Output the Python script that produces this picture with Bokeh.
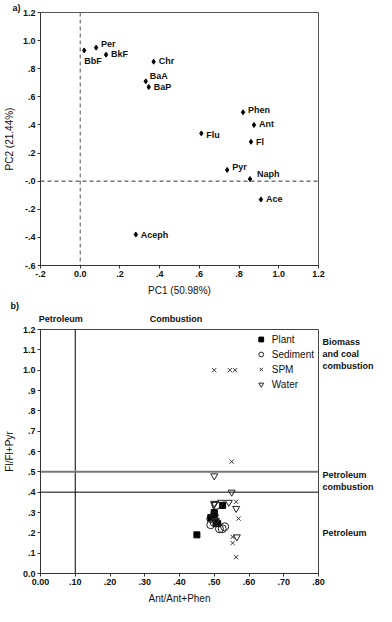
from bokeh.plotting import figure
from bokeh.layouts import column
from bokeh.models import (ColumnDataSource, Span, LabelSet, Range1d, FixedTicker,
                          Legend, LegendItem, LinearAxis, Title)
from bokeh.core.properties import value
from bokeh.embed import file_html
from bokeh.resources import INLINE

# ---------------- data: panel a (PCA loadings) ----------------
pah_names = ["BbF", "Per", "BkF", "Chr", "BaA", "BaP", "Phen", "Ant", "Flu", "Fl", "Pyr", "Naph", "Ace", "Aceph"]
pc1 = [0.02, 0.08, 0.13, 0.37, 0.33, 0.345, 0.82, 0.875, 0.61, 0.86, 0.74, 0.855, 0.91, 0.28]
pc2 = [0.93, 0.95, 0.90, 0.85, 0.71, 0.67, 0.49, 0.40, 0.34, 0.28, 0.08, 0.015, -0.13, -0.38]
a_xticks = [-0.2, 0.0, 0.2, 0.4, 0.6, 0.8, 1.0, 1.2]
a_xlabels = ["-.2", "0.0", ".2", ".4", ".6", ".8", "1.0", "1.2"]
a_yticks = [-0.6, -0.4, -0.2, 0.0, 0.2, 0.4, 0.6, 0.8, 1.0, 1.2]
a_ylabels = ["-.6", "-.4", "-.2", "-.0", ".2", ".4", ".6", ".8", "1.0", "1.2"]

# ---------------- data: panel b (diagnostic ratios) ----------------
plant_x = [0.45, 0.524, 0.50, 0.50, 0.49, 0.51, 0.505]
plant_y = [0.19, 0.335, 0.30, 0.29, 0.275, 0.245, 0.25]
sed_x = [0.49, 0.50, 0.50, 0.505, 0.515, 0.523, 0.53, 0.49]
sed_y = [0.24, 0.25, 0.285, 0.335, 0.22, 0.22, 0.23, 0.27]
spm_x = [0.50, 0.545, 0.56, 0.55, 0.563, 0.57, 0.553, 0.553, 0.563]
spm_y = [1.00, 1.00, 1.00, 0.55, 0.353, 0.27, 0.18, 0.15, 0.08]
water_x = [0.50, 0.55, 0.50, 0.52, 0.542, 0.563, 0.565, 0.505, 0.50]
water_y = [0.48, 0.40, 0.345, 0.35, 0.35, 0.32, 0.18, 0.26, 0.34]
b_xticks = [0.0, 0.1, 0.2, 0.3, 0.4, 0.5, 0.6, 0.7, 0.8]
b_xlabels = ["0.00", ".10", ".20", ".30", ".40", ".50", ".60", ".70", ".80"]
b_yticks = [0.0, 0.1, 0.2, 0.3, 0.4, 0.5, 0.6, 0.7, 0.8, 0.9, 1.0, 1.1, 1.2]
b_ylabels = ["0.0", ".1", ".2", ".3", ".4", ".5", ".6", ".7", ".8", ".9", "1.0", "1.1", "1.2"]
# source zones named along the top and the right edge of panel b
zone_top_x = [0.058, 0.39]
zone_top_labels = ["Petroleum", "Combustion"]
zone_right_y = [1.08, 0.455, 0.20]
zone_right_labels = ["Biomass\nand coal\ncombustion", "Petroleum\ncombustion", "Petroleum"]

FONT = "Liberation Sans"

def style_axis(ax, bold=True):
    ax.major_label_text_font = FONT
    ax.major_label_text_font_style = "bold" if bold else "normal"
    ax.major_label_text_font_size = "9px"
    ax.major_label_text_color = "#111111"
    ax.axis_label_text_font = FONT
    ax.axis_label_text_font_style = "normal"
    ax.axis_label_text_font_size = "10px"
    ax.axis_label_text_color = "#111111"
    ax.minor_tick_line_color = None
    ax.major_tick_out = 3
    ax.major_tick_in = 0
    ax.major_label_standoff = 2
    ax.axis_label_standoff = 5
    ax.axis_line_color = "#333333"
    ax.major_tick_line_color = "#333333"

def bare_axis(ax):
    style_axis(ax)
    ax.axis_line_color = None
    ax.major_tick_line_color = None
    ax.major_tick_out = 0

def style_fig(p):
    style_axis(p.xaxis[0])
    style_axis(p.yaxis[0])
    p.xgrid.grid_line_color = None
    p.ygrid.grid_line_color = None
    p.outline_line_color = "#555555"
    p.outline_line_width = 1

def panel_tag(p, text, offset):
    p.add_layout(Title(text=text, align="left", offset=offset, text_font=FONT, text_font_size="9px",
                       text_font_style="bold", text_color="#111111", standoff=0), "above")

# ---------------- panel a ----------------
pa = figure(width=376, height=298, output_backend="svg", toolbar_location=None, title_location=None,
            x_range=Range1d(-0.2, 1.2), y_range=Range1d(-0.6, 1.2),
            min_border_left=30, min_border_right=44, min_border_top=0, min_border_bottom=30)
style_fig(pa)
pa.xaxis.ticker = FixedTicker(ticks=a_xticks)
pa.xaxis.major_label_overrides = dict(zip(a_xticks, a_xlabels))
pa.yaxis.ticker = FixedTicker(ticks=a_yticks)
pa.yaxis.major_label_overrides = dict(zip(a_yticks, a_ylabels))
pa.xaxis.axis_label = "PC1 (50.98%)"
pa.yaxis.axis_label = "PC2 (21.44%)"
panel_tag(pa, "a)", -28)

pa.add_layout(Span(location=0, dimension="height", line_color="#555555", line_dash="4 3", line_width=1))
pa.add_layout(Span(location=0, dimension="width", line_color="#333333", line_dash="4 3", line_width=1))

# label offsets (screen px) for each point label
lab_dx = [0, 5, 5, 5, 4, 5, 5, 5, 5, 5, 5, 7, 5, 5]
lab_dy = [-11, 4, 1, 1, 5, 0, 2, 1, -2, 0, 3, 5, 0, 0]
src_a = ColumnDataSource(dict(x=pc1, y=pc2, name=pah_names, dx=lab_dx, dy=lab_dy))
pa.scatter("x", "y", source=src_a, marker="diamond", size=5, fill_color="black", line_color="black")
pa.add_layout(LabelSet(x="x", y="y", text="name", source=src_a, x_offset="dx", y_offset="dy",
                       text_font=value(FONT), text_font_size=value("9px"), text_font_style=value("bold"),
                       text_baseline=value("middle"), text_color=value("#111111")))

# ---------------- panel b ----------------
pb = figure(width=376, height=308, output_backend="svg", toolbar_location=None, title_location=None,
            x_range=Range1d(0, 0.8), y_range=Range1d(0, 1.2),
            min_border_left=26, min_border_right=0, min_border_top=0, min_border_bottom=30)
style_fig(pb)
pb.outline_line_color = "#444444"
pb.xaxis.ticker = FixedTicker(ticks=b_xticks)
pb.xaxis.major_label_overrides = dict(zip(b_xticks, b_xlabels))
pb.yaxis.ticker = FixedTicker(ticks=b_yticks)
pb.yaxis.major_label_overrides = dict(zip(b_yticks, b_ylabels))
pb.xaxis.axis_label = "Ant/Ant+Phen"
pb.yaxis.axis_label = "Fl/Fl+Pyr"

top_axis = LinearAxis(ticker=FixedTicker(ticks=zone_top_x),
                      major_label_overrides=dict(zip(zone_top_x, zone_top_labels)))
bare_axis(top_axis)
top_axis.major_label_standoff = 6
pb.add_layout(top_axis, "above")

right_axis = LinearAxis(ticker=FixedTicker(ticks=zone_right_y),
                        major_label_overrides=dict(zip(zone_right_y, zone_right_labels)))
bare_axis(right_axis)
right_axis.major_label_standoff = 4
pb.add_layout(right_axis, "right")

panel_tag(pb, "b)", -30)

pb.add_layout(Span(location=0.1, dimension="height", line_color="black", line_width=1))
pb.add_layout(Span(location=0.5, dimension="width", line_color="#777777", line_width=2))
pb.add_layout(Span(location=0.4, dimension="width", line_color="black", line_width=1))

r_plant = pb.scatter(plant_x, plant_y, marker="square", size=6, fill_color="black", line_color="black")
r_sed = pb.scatter(sed_x, sed_y, marker="circle", size=8, fill_color=None, line_color="#222222")
r_spm = pb.scatter(spm_x, spm_y, marker="x", size=6, line_color="#333333")
r_water = pb.scatter(water_x, water_y, marker="inverted_triangle", size=7, fill_color=None, line_color="#222222")

legend = Legend(items=[LegendItem(label="Plant", renderers=[r_plant]),
                       LegendItem(label="Sediment", renderers=[r_sed]),
                       LegendItem(label="SPM", renderers=[r_spm]),
                       LegendItem(label="Water", renderers=[r_water])],
                location="top_right")
legend.label_text_font = FONT
legend.label_text_font_size = "10px"
legend.label_text_color = "#111111"
legend.glyph_width = 12
legend.glyph_height = 12
legend.spacing = 3
legend.padding = 3
legend.margin = 4
legend.label_standoff = 5
legend.border_line_color = None
legend.background_fill_alpha = 0
pb.add_layout(legend)

layout = column(pa, pb, spacing=0)
open("out.html", "w").write(file_html(layout, INLINE))
